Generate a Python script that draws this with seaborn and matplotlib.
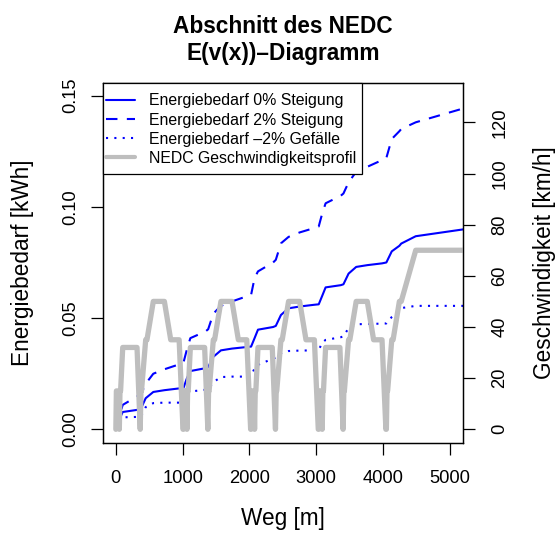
import matplotlib
matplotlib.use("Agg")
import matplotlib.pyplot as plt
from matplotlib.patches import Rectangle
import seaborn as sns
import pandas as pd

# ---------------- data ----------------
x_ticks = [0, 1000, 2000, 3000, 4000, 5000]
y_ticks = [0.00, 0.05, 0.10, 0.15]
y_tick_labels = ["0.00", "0.05", "0.10", "0.15"]
v_ticks = [0, 20, 40, 60, 80, 100, 120]

labels = ["Energiebedarf 0% Steigung", "Energiebedarf 2% Steigung",
          "Energiebedarf –2% Gefälle", "NEDC Geschwindigkeitsprofil"]

e_x = [0, 52, 103, 330, 370, 447, 561, 727, 948, 1013,
       1065, 1116, 1343, 1383, 1460, 1574, 1740, 1961, 2026,
       2078, 2129, 2356, 2396, 2473, 2587, 2753, 2974, 3039,
       3091, 3142, 3369, 3409, 3486, 3600, 3766, 3987, 4052,
       4133, 4247, 4275, 4492, 5464]

e_0 = [0.000, 0.0045, 0.0078, 0.0088, 0.0090, 0.0140, 0.0168, 0.0176, 0.0184, 0.0186,
       0.0230, 0.0262, 0.0275, 0.0280, 0.0326, 0.0355, 0.0363, 0.0370, 0.0372,
       0.0410, 0.0448, 0.0460, 0.0465, 0.0514, 0.0544, 0.0552, 0.0560, 0.0562,
       0.0600, 0.0638, 0.0648, 0.0652, 0.0700, 0.0730, 0.0738, 0.0746, 0.0750,
       0.0800, 0.0825, 0.0835, 0.0868, 0.0910]

e_2 = [0.000, 0.0060, 0.0110, 0.0150, 0.0155, 0.0205, 0.0250, 0.0270, 0.0292, 0.0300,
       0.0360, 0.0410, 0.0440, 0.0450, 0.0520, 0.0555, 0.0575, 0.0598, 0.0605,
       0.0680, 0.0710, 0.0750, 0.0762, 0.0836, 0.0865, 0.0885, 0.0905, 0.0912,
       0.0970, 0.1016, 0.1050, 0.1060, 0.1110, 0.1158, 0.1180, 0.1210, 0.1220,
       0.1305, 0.1340, 0.1350, 0.1380, 0.1465]

e_m2 = [0.000, 0.0030, 0.0054, 0.0056, 0.0056, 0.0100, 0.0118, 0.0120, 0.0120, 0.0120,
        0.0160, 0.0170, 0.0178, 0.0180, 0.0212, 0.0235, 0.0237, 0.0237, 0.0238,
        0.0275, 0.0290, 0.0318, 0.0322, 0.0342, 0.0352, 0.0354, 0.0355, 0.0356,
        0.0390, 0.0402, 0.0414, 0.0418, 0.0455, 0.0472, 0.0474, 0.0475, 0.0476,
        0.0505, 0.0535, 0.0545, 0.0555, 0.0555]

v_x = [0, 8, 42, 52, 62, 71, 103, 317, 365, 376, 384, 447, 466, 561, 727, 822, 948, 1006,
       1013, 1021, 1055, 1065, 1075, 1084, 1116, 1330, 1378, 1389, 1397, 1460, 1479, 1574, 1740, 1835, 1961, 2019,
       2026, 2034, 2068, 2078, 2088, 2097, 2129, 2343, 2391, 2402, 2410, 2473, 2492, 2587, 2753, 2848, 2974, 3032,
       3039, 3047, 3081, 3091, 3101, 3110, 3142, 3356, 3404, 3415, 3423, 3486, 3505, 3600, 3766, 3861, 3987, 4045,
       4052, 4062, 4071, 4133, 4153, 4247, 4275, 4492, 5464]
v_kmh = [0, 15, 15, 0, 15, 15, 32, 32, 0, 15, 15, 35, 35, 50, 50, 35, 35, 0,
         0, 15, 15, 0, 15, 15, 32, 32, 0, 15, 15, 35, 35, 50, 50, 35, 35, 0,
         0, 15, 15, 0, 15, 15, 32, 32, 0, 15, 15, 35, 35, 50, 50, 35, 35, 0,
         0, 15, 15, 0, 15, 15, 32, 32, 0, 15, 15, 35, 35, 50, 50, 35, 35, 0,
         0, 15, 15, 35, 35, 50, 50, 70, 70]

df_e = pd.DataFrame({"x": e_x, "e0": e_0, "e2": e_2, "em2": e_m2})
df_v = pd.DataFrame({"x": v_x, "v": v_kmh})

# ---------------- style ----------------
sns.set_style("white")
plt.rcParams["font.family"] = ["Liberation Sans", "DejaVu Sans"]
plt.rcParams["text.color"] = "black"
plt.rcParams["axes.labelcolor"] = "black"
plt.rcParams["xtick.color"] = "black"
plt.rcParams["ytick.color"] = "black"

W, H = 555, 533
fig = plt.figure(figsize=(W / 100, H / 100), dpi=100)
L, R, T, B = 102.5, 463.0, 82.7, 442.7
ax = fig.add_axes([L / W, 1 - B / H, (R - L) / W, (B - T) / H])
ax2 = ax.twinx()

blue = "#0000FF"
grey = "#BEBEBE"
lw = 1.5

sns.lineplot(data=df_e, x="x", y="e0", ax=ax, color=blue, lw=lw, sort=False,
             estimator=None, label=labels[0])
sns.lineplot(data=df_e, x="x", y="e2", ax=ax, color=blue, lw=lw, sort=False,
             estimator=None, label=labels[1], linestyle=(0, (5.5, 4.5)))
sns.lineplot(data=df_e, x="x", y="em2", ax=ax, color=blue, lw=lw, sort=False,
             estimator=None, label=labels[2], linestyle=(0, (1, 3)))
sns.lineplot(data=df_v, x="x", y="v", ax=ax2, color=grey, lw=3.8, sort=False,
             estimator=None, label=labels[3], solid_joinstyle="round")

ax.set_xlim(-200, 5200)
ax.set_ylim(-0.006, 0.1558)
ax2.set_ylim(-5.24, 135.5)

ax.set_xticks(x_ticks)
ax.set_xticklabels([str(t) for t in x_ticks])
ax.set_yticks(y_ticks)
ax.set_yticklabels(y_tick_labels)
ax2.set_yticks(v_ticks)
ax2.set_yticklabels([str(t) for t in v_ticks])

ax.set_xlabel("")
ax.set_ylabel("")
ax2.set_ylabel("")

tick_fs = 13.2
ax.tick_params(axis="x", direction="out", length=8.6, width=0.9, pad=11.2,
               labelsize=tick_fs, bottom=True, colors="black")
ax.tick_params(axis="y", direction="out", length=8.6, width=0.9, pad=8.2,
               labelsize=tick_fs, left=True, colors="black")
ax2.tick_params(axis="y", direction="out", length=8.6, width=0.9, pad=11.8,
                labelsize=tick_fs, right=True, colors="black")
for lab in ax.get_yticklabels():
    lab.set_rotation(90)
    lab.set_va("center")
    lab.set_ha("right")
for lab in ax2.get_yticklabels():
    lab.set_rotation(90)
    lab.set_va("center")
    lab.set_ha("left")

for a in (ax, ax2):
    for s in a.spines.values():
        s.set_visible(True)
        s.set_color("black")
        s.set_linewidth(0.9)

# legend
h1, l1 = ax.get_legend_handles_labels()
h2, l2 = ax2.get_legend_handles_labels()
if ax.get_legend() is not None:
    ax.get_legend().remove()
if ax2.get_legend() is not None:
    ax2.get_legend().remove()
frame = Rectangle((0, (B - 174.3) / (B - T)), (361.7 - L) / (R - L), (174.3 - T) / (B - T),
                  transform=ax2.transAxes, facecolor="white", edgecolor="black",
                  linewidth=0.9, zorder=4, clip_on=False)
ax2.add_patch(frame)
leg = ax2.legend(h1 + h2, l1 + l2, loc="upper left",
                 bbox_to_anchor=((106 - L) / (R - L), (B - 93.5) / (B - T)),
                 frameon=False, borderpad=0, borderaxespad=0, handlelength=1.8,
                 handletextpad=0.9, labelspacing=0.26, fontsize=11.4)
leg.set_zorder(5)
for t in leg.get_texts():
    t.set_color("black")
leg.legend_handles[3].set_linewidth(3.0)

# titles and labels
lab_fs = 16.3
fig.text(283 / W, 1 - 32.8 / H, "Abschnitt des NEDC", ha="center", va="baseline",
         fontsize=lab_fs, fontweight="bold", color="black")
fig.text(283 / W, 1 - 59.8 / H, "E(v(x))–Diagramm", ha="center", va="baseline",
         fontsize=lab_fs, fontweight="bold", color="black")
fig.text(283 / W, 1 - 525 / H, "Weg [m]", ha="center", va="baseline", fontsize=lab_fs,
         color="black")
fig.text(23 / W, 1 - 262.7 / H, "Energiebedarf [kWh]", ha="center", va="center",
         rotation=90, fontsize=lab_fs, color="black")
fig.text(544 / W, 1 - 262.7 / H, "Geschwindigkeit [km/h]", ha="center", va="center",
         rotation=90, fontsize=lab_fs, color="black")

fig.savefig("out.png", dpi=100, facecolor="white")
